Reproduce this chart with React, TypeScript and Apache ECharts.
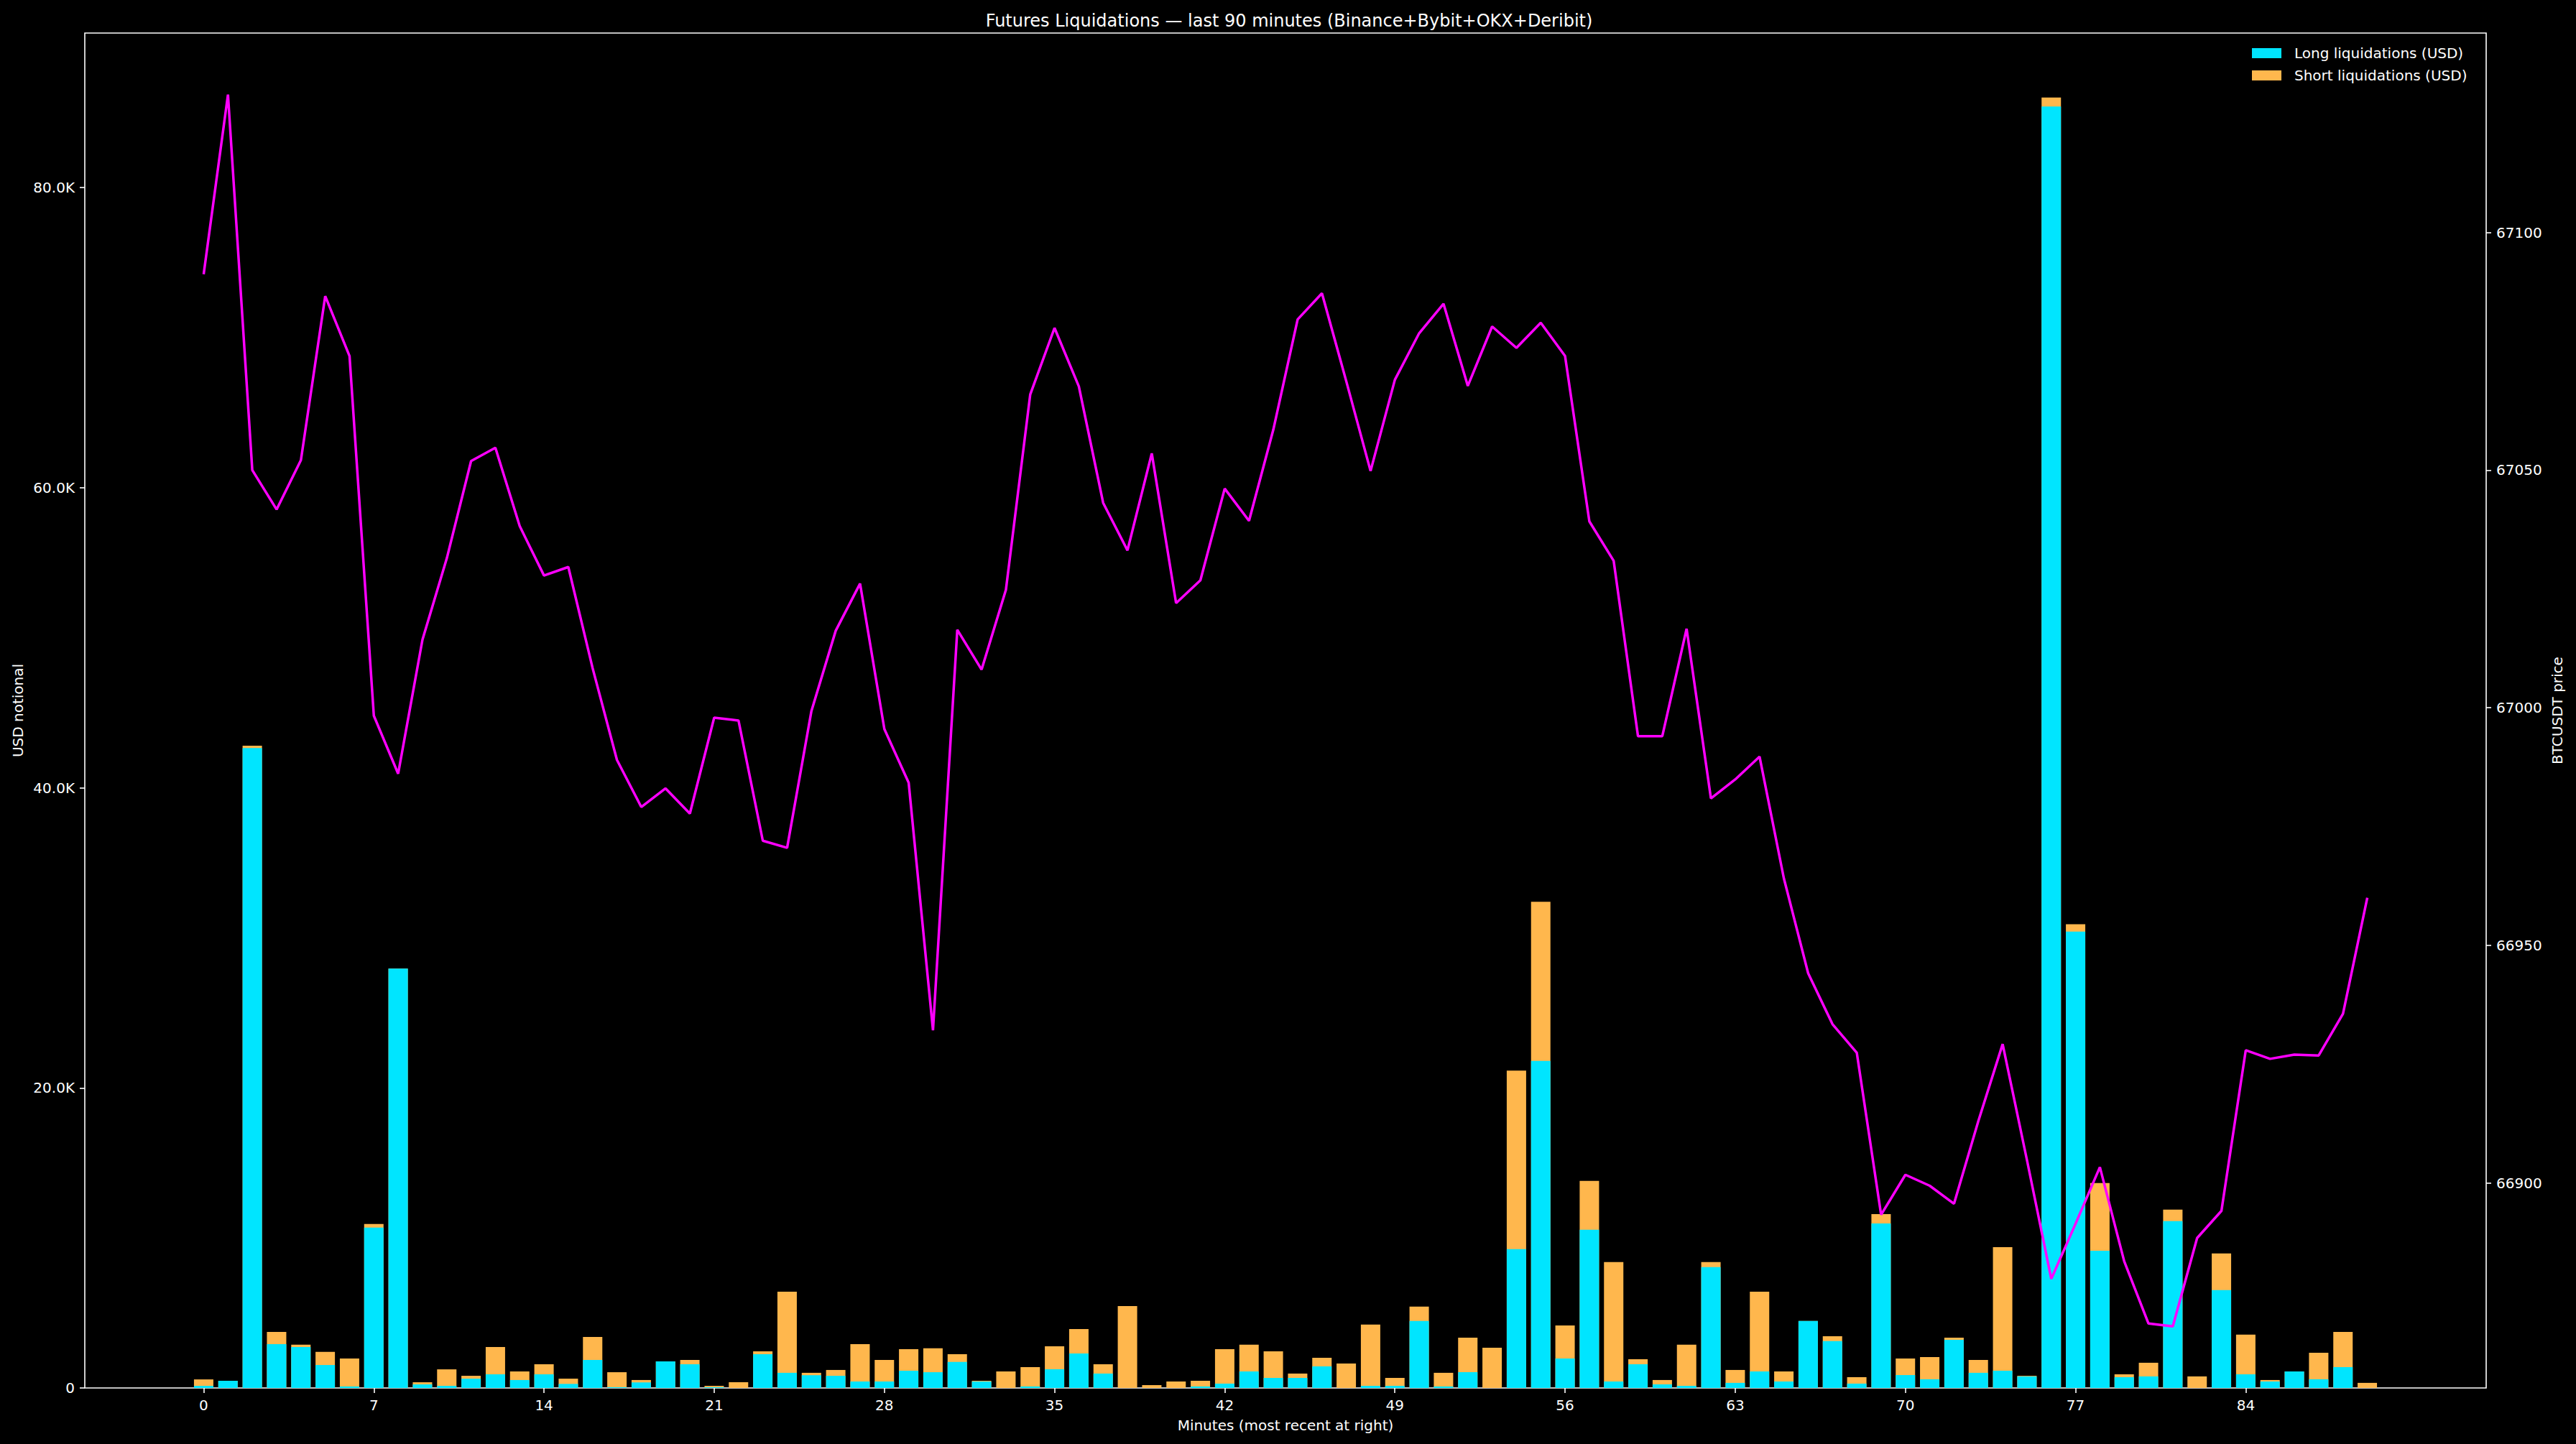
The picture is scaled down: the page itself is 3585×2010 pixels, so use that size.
import React, { useEffect, useRef } from "react";
import * as echarts from "echarts";

const xTicks = [0, 7, 14, 21, 28, 35, 42, 49, 56, 63, 70, 77, 84];
const usdTicks = [0, 20000, 40000, 60000, 80000];
const priceTicks = [66900, 66950, 67000, 67050, 67100];

const longLiq = [
  140, 480, 42650, 2920, 2730, 1530, 100, 10690, 27950, 240,
  140, 620, 910, 530, 910, 270, 1870, 50, 370, 1770,
  1580, 50, 0, 2250, 1010, 850, 810, 430, 430, 1150,
  1050, 1730, 430, 0, 100, 1250, 2300, 960, 0, 0,
  0, 100, 290, 1100, 670, 670, 1440, 0, 140, 140,
  4460, 100, 1050, 0, 9250, 21800, 1960, 10540, 430, 1580,
  240, 140, 8050, 340, 1100, 430, 4460, 3120, 290, 10970,
  860, 580, 3210, 1010, 1150, 770, 85400, 30420, 9150, 720,
  770, 11120, 0, 6520, 910, 430, 1100, 580, 1390, 0,
];

const shortLiq = [
  430, 0, 150, 820, 150, 870, 1860, 240, 0, 140,
  1100, 190, 1820, 570, 670, 350, 1530, 1000, 160, 0,
  290, 90, 380, 190, 5410, 160, 390, 2490, 1440, 1440,
  1590, 520, 50, 1100, 1290, 1530, 1630, 620, 5460, 190,
  430, 380, 2300, 1780, 1770, 290, 570, 1630, 4080, 530,
  960, 910, 2300, 2680, 11900, 10600, 2210, 3260, 7960, 340,
  290, 2740, 340, 860, 5320, 670, 0, 330, 430, 620,
  1100, 1480, 140, 860, 8240, 40, 600, 480, 4510, 190,
  910, 770, 770, 2440, 2640, 100, 0, 1770, 2350, 340,
];

const price = [
  67091.2, 67129.0, 67050.0, 67041.7, 67052.1, 67086.6, 67074.0, 66998.3, 66986.1, 67014.3,
  67031.4, 67051.9, 67054.7, 67038.2, 67027.8, 67029.6, 67008.3, 66989.0, 66979.1, 66983.0,
  66977.7, 66997.9, 66997.3, 66972.0, 66970.5, 66999.3, 67016.2, 67026.1, 66995.5, 66984.2,
  66932.1, 67016.4, 67008.0, 67024.8, 67065.9, 67079.9, 67067.6, 67043.1, 67033.1, 67053.5,
  67022.0, 67026.8, 67046.1, 67039.3, 67058.5, 67081.7, 67087.2, 67068.7, 67049.8, 67069.0,
  67078.8, 67085.0, 67067.7, 67080.2, 67075.7, 67081.0, 67074.0, 67039.2, 67030.9, 66994.0,
  66994.0, 67016.6, 66980.9, 66984.9, 66989.7, 66964.1, 66944.1, 66933.4, 66927.4, 66893.3,
  66901.7, 66899.4, 66895.6, 66913.0, 66929.2, 66904.8, 66879.8, 66891.4, 66903.3, 66883.5,
  66870.4, 66869.8, 66888.4, 66894.1, 66927.9, 66926.1, 66927.0, 66926.8, 66935.6, 66960.0,
];

const FONT = "DejaVu Sans";

export default function App() {
  const ref = useRef<HTMLDivElement>(null);
  useEffect(() => {
    if (!ref.current) return;
    const chart = echarts.init(ref.current, null, { renderer: "svg" });
    const n = price.length;
    // stacked top of each bar (long + short); the short segment is drawn behind the long one
    const totals = longLiq.map((v, i) => v + shortLiq[i]);
    const usdMax = Math.max(...totals) * 1.05;
    const pMin = Math.min(...price);
    const pMax = Math.max(...price);
    const pr = pMax - pMin;
    const xMin = -0.4 - 0.05 * (n - 1 + 0.8);
    const xMax = n - 1 + 0.4 + 0.05 * (n - 1 + 0.8);
    const labelStyle = { color: "#ffffff", fontSize: 20, fontFamily: FONT };
    const tickStyle = { show: true, length: 7, lineStyle: { color: "#ffffff", width: 1.6 } };
    chart.setOption({
      animation: false,
      backgroundColor: "#000000",
      textStyle: { fontFamily: FONT },
      title: {
        text: "Futures Liquidations — last 90 minutes (Binance+Bybit+OKX+Deribit)",
        left: 1789,
        textAlign: "center",
        top: 12,
        textStyle: { color: "#ffffff", fontSize: 24, fontWeight: "normal", fontFamily: FONT },
      },
      legend: {
        orient: "vertical",
        left: 3129,
        top: 59,
        icon: "rect",
        itemWidth: 41,
        itemHeight: 14,
        itemGap: 11,
        data: ["Long liquidations (USD)", "Short liquidations (USD)"],
        textStyle: { color: "#ffffff", fontSize: 20, fontFamily: FONT, padding: [0, 0, 0, 13] },
      },
      grid: {
        left: 118,
        right: 125,
        top: 46,
        bottom: 78,
        show: true,
        borderColor: "#ffffff",
        borderWidth: 1.6,
        backgroundColor: "transparent",
      },
      xAxis: {
        type: "value",
        min: xMin,
        max: xMax,
        name: "Minutes (most recent at right)",
        nameLocation: "middle",
        nameGap: 42,
        nameTextStyle: labelStyle,
        axisLine: { show: false, onZero: false },
        axisTick: { ...tickStyle, customValues: xTicks },
        axisLabel: { ...labelStyle, margin: 14, customValues: xTicks },
        splitLine: { show: false },
      },
      yAxis: [
        {
          type: "value",
          min: 0,
          max: usdMax,
          position: "left",
          name: "USD notional",
          nameLocation: "middle",
          nameRotate: 90,
          nameGap: 83,
          nameTextStyle: labelStyle,
          axisLine: { show: false, onZero: false },
          axisTick: { ...tickStyle, customValues: usdTicks },
          axisLabel: {
            ...labelStyle,
            margin: 14,
            customValues: usdTicks,
            formatter: (v: number) => (v === 0 ? "0" : (v / 1000).toFixed(1) + "K"),
          },
          splitLine: { show: false },
        },
        {
          type: "value",
          min: pMin - 0.05 * pr,
          max: pMax + 0.05 * pr,
          position: "right",
          name: "BTCUSDT price",
          nameLocation: "middle",
          nameRotate: 90,
          nameGap: 88,
          nameTextStyle: labelStyle,
          axisLine: { show: false, onZero: false },
          axisTick: { ...tickStyle, customValues: priceTicks },
          axisLabel: { ...labelStyle, margin: 14, customValues: priceTicks, formatter: (v: number) => String(Math.round(v)) },
          splitLine: { show: false },
        },
      ],
      series: [
        {
          name: "Short liquidations (USD)",
          type: "bar",
          barWidth: 27,
          barGap: "-100%",
          itemStyle: { color: "#FFB74D" },
          data: totals.map((v, i) => [i, v]),
          z: 2,
        },
        {
          name: "Long liquidations (USD)",
          type: "bar",
          barWidth: 27,
          barGap: "-100%",
          itemStyle: { color: "#00E5FF" },
          data: longLiq.map((v, i) => [i, v]),
          z: 3,
        },
        {
          name: "BTCUSDT",
          type: "line",
          yAxisIndex: 1,
          symbol: "none",
          lineStyle: { color: "#FF00FF", width: 3.5 },
          itemStyle: { color: "#FF00FF" },
          data: price.map((v, i) => [i, v]),
          z: 5,
        },
      ],
    });
    return () => chart.dispose();
  }, []);
  return (
    <div
      ref={ref}
      style={{ position: "absolute", left: 0, top: 0, width: 3585, height: 2010 }}
    />
  );
}
